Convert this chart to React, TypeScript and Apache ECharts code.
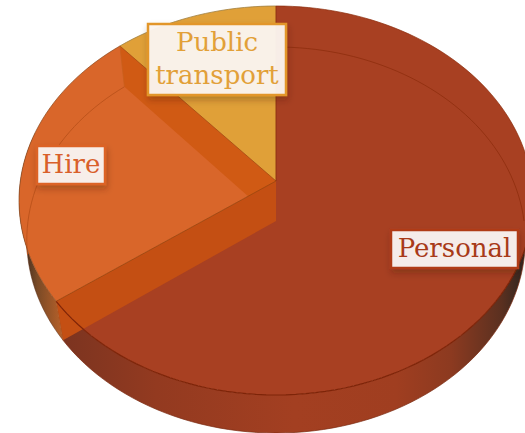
import React, { useEffect, useRef } from "react";
import * as echarts from "echarts";

const categories = ["Personal", "Hire", "Public\ntransport"];
const values = [65, 23.6, 11.4];

const faceColors = ["#A84022", "#D9662A", "#E0A038"];

const W = 525;
const H = 433;
const FONT = '26px "DejaVu Serif"';

// Perspective projection of the disc: a circle seen from above, top and bottom faces.
const top = { cx: 276, R: 255.7, a: -174.4, b: 181, c: 0.1003 };
const bot = { cx: 276, R: 248, a: -169.4, b: 221, c: 0.0984 };
type P = typeof top;
const rad = (d: number) => (d * Math.PI) / 180;
const pt = (p: P, deg: number): [number, number] => {
  const u = Math.sin(rad(deg));
  const v = Math.cos(rad(deg));
  const w = p.c * v + 1;
  return [p.cx + (p.R * u) / w, (p.a * v + p.b) / w];
};
const arc = (p: P, from: number, to: number): [number, number][] => {
  const out: [number, number][] = [];
  const n = Math.max(2, Math.ceil(Math.abs(to - from) / 2));
  for (let i = 0; i <= n; i++) out.push(pt(p, from + ((to - from) * i) / n));
  return out;
};

const boxes = [
  { x: 391, y: 230, w: 127, h: 38, stroke: "#B03A18", fill: "#F5ECE9", text: "#A83A18", tx: 454.5, ty: 248 },
  { x: 37, y: 146, w: 68, h: 38, stroke: "#DC6428", fill: "#F7EEE9", text: "#D9602A", tx: 71, ty: 164 },
  { x: 148, y: 24, w: 138, h: 71, stroke: "#E2962A", fill: "rgba(252,246,240,0.95)", text: "#E2A038", tx: 217, ty: 58.5 },
];

const hireWallFill = () =>
  new echarts.graphic.LinearGradient(22, 0, 66, 0, [
    { offset: 0, color: "#3A2A20" },
    { offset: 0.35, color: "#7A4A26" },
    { offset: 1, color: "#C0642A" },
  ], true);
const personalWallFill = () =>
  new echarts.graphic.LinearGradient(64, 0, 525, 0, [
    { offset: 0, color: "#7C3420" },
    { offset: 0.2, color: "#933A20" },
    { offset: 0.5, color: "#A33F21" },
    { offset: 0.72, color: "#A03E20" },
    { offset: 0.84, color: "#8C3A20" },
    { offset: 0.95, color: "#5A3020" },
    { offset: 1, color: "#2E2620" },
  ], true);

export default function App() {
  const ref = useRef<HTMLDivElement>(null);
  useEffect(() => {
    document.body.style.margin = "0";
    const chart = echarts.init(ref.current!, undefined, { renderer: "svg", width: W, height: H });
    const total = values.reduce((a, b) => a + b, 0);
    const starts: number[] = [];
    let acc = 0;
    values.forEach((v) => {
      starts.push(acc);
      acc += (v / total) * 360;
    });

    const renderItem = (_params: any, api: any) => {
      const i = _params.dataIndex as number;
      const a0 = starts[i];
      const a1 = a0 + (api.value(0) / total) * 360;
      const children: any[] = [];
      const poly = (points: any, style: any, z2: number) => ({
        type: "polygon", shape: { points }, style, z2, silent: true,
      });
      const line = (points: any, stroke: string, opacity: number, z2: number, lw = 1) => ({
        type: "polyline", shape: { points }, style: { stroke, fill: "none", opacity, lineWidth: lw }, z2, silent: true,
      });

      // outer wall between the two rims
      if (i === 0) {
        children.push(poly([...arc(top, 90, a1), ...arc(bot, a1, 90)], { fill: personalWallFill() }, 1));
        children.push(line(arc(bot, 90, a1), "#7A2A10", 0.7, 2));
      }
      if (i === 1) {
        children.push(poly([...arc(top, a0, 285), ...arc(bot, 285, a0)], { fill: hireWallFill() }, 1));
        children.push(line(arc(bot, a0, 285), "#5A2A10", 0.5, 2));
      }

      // top face
      const apex: [number, number] = [top.cx, top.b];
      const apexB: [number, number] = [bot.cx, bot.b];
      children.push(poly([apex, ...arc(top, a0, a1)], { fill: faceColors[i] }, 3));

      // radial walls
      if (i === 2) {
        children.push(poly([apex, pt(top, a0), pt(bot, a0), apexB], { fill: "#D05A14" }, 4));
        children.push(line([pt(top, a0), apex], "#A8500F", 0.9, 5));
        children.push(line([pt(top, a0), pt(bot, a0)], "#C8601C", 0.7, 5));
        children.push(line([apex, [top.cx, 6]], "#8C2F10", 0.9, 9));
      }
      if (i === 1) {
        children.push(poly([apex, pt(top, a0), pt(bot, a0), apexB], { fill: "#C44F13" }, 6));
        children.push(line([apex, pt(top, a0)], "#A0480F", 0.9, 7));
        children.push(line([pt(top, a0), pt(bot, a0)], "#A8501A", 0.6, 7));
      }

      // rims seen through the faces
      if (i === 0) {
        children.push(line(arc(bot, 0, 90), "#8C2C0C", 0.75, 8));
        children.push(line(arc(top, 90, a1), "#7E2408", 1, 8, 1.2));
        children.push(line(arc(top, 0, 90), "#8C2C0C", 0.7, 8));
      }
      if (i === 1) {
        children.push(line(arc(bot, a1, 260), "#BE541C", 1, 8));
        children.push(line(arc(top, a0, a1), "#8A4A20", 0.7, 8));
      }
      if (i === 2) {
        children.push(line(arc(top, a0, a1), "#A08040", 0.8, 8));
      }

      // label
      const b = boxes[i];
      children.push({
        type: "rect",
        shape: { x: b.x, y: b.y, width: b.w, height: b.h },
        style: {
          fill: b.fill, stroke: b.stroke, lineWidth: 2.5,
          shadowBlur: 6, shadowColor: "rgba(60,30,10,0.28)", shadowOffsetX: 1, shadowOffsetY: 4,
        },
        z2: 20, silent: true,
      });
      children.push({
        type: "text",
        style: {
          text: categories[i],
          x: b.tx, y: b.ty, align: "center", verticalAlign: "middle",
          font: FONT, fill: b.text, lineHeight: 33,
        },
        z2: 21, silent: true,
      });
      return { type: "group", children };
    };

    chart.setOption({
      animation: false,
      backgroundColor: "#ffffff",
      series: [
        {
          type: "custom",
          coordinateSystem: "none",
          renderItem,
          clip: false,
          silent: true,
          data: values.map((v, i) => ({ name: categories[i], value: [v, i] })),
        },
      ],
    });
    return () => chart.dispose();
  }, []);
  return <div ref={ref} style={{ width: W, height: H, overflow: "hidden" }} />;
}
